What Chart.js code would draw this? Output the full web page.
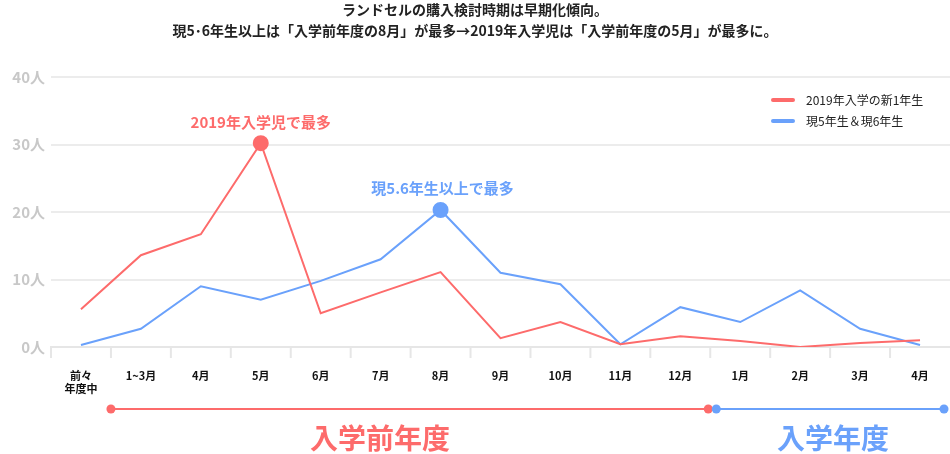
<!DOCTYPE html>
<html><head><meta charset="utf-8">
<script src="https://cdn.jsdelivr.net/npm/chart.js@4"></script>
<style>body{margin:0;background:#fff}#wrap{width:950px;height:454px}</style>
</head><body><div id="wrap"><canvas id="c"></canvas></div>
<script>
const categories = [['前々', '年度中'], '1~3月', '4月', '5月', '6月', '7月', '8月', '9月', '10月', '11月', '12月', '1月', '2月', '3月', '4月'];
const newFirstGrade = [5.6, 13.6, 16.7, 30.2, 5.0, 8.1, 11.1, 1.3, 3.7, 0.4, 1.6, 0.9, 0.0, 0.6, 1.0];
const grade5and6 = [0.3, 2.7, 9.0, 7.0, 9.8, 13.0, 20.3, 11.0, 9.3, 0.4, 5.9, 3.7, 8.4, 2.7, 0.3];
const seriesNames = ['2019年入学の新1年生', '現5年生＆現6年生'];
const yTicks = [0, 10, 20, 30, 40];

const RED = '#fd6b6b', BLUE = '#6aa1fb';
const FONT = '"Noto Sans CJK JP", sans-serif';

const overlay = {
    id: 'overlay',
    afterDraw(chart) {
        const ctx = chart.ctx, x = chart.scales.x, y = chart.scales.y;
        ctx.save();
        // title
        ctx.fillStyle = '#222';
        ctx.font = 'bold 14px ' + FONT;
        ctx.textAlign = 'center';
        ctx.textBaseline = 'middle';
        ctx.fillText('ランドセルの購入検討時期は早期化傾向。', 475, 10);
        ctx.fillText('現5･6年生以上は「入学前年度の8月」が最多→2019年入学児は「入学前年度の5月」が最多に。', 475, 31);

        // peak labels
        ctx.font = 'bold 15px ' + FONT;
        const pr = newFirstGrade.indexOf(Math.max(...newFirstGrade));
        const pb = grade5and6.indexOf(Math.max(...grade5and6));
        ctx.fillStyle = RED;
        ctx.fillText('2019年入学児で最多', x.getPixelForValue(pr), 122);
        ctx.fillStyle = BLUE;
        ctx.fillText('現5.6年生以上で最多', x.getPixelForValue(pb) + 2, 188);

        // legend
        ctx.textAlign = 'left';
        ctx.font = '12px ' + FONT;
        [[RED, 100], [BLUE, 121]].forEach(([col, yy], i) => {
            ctx.strokeStyle = col; ctx.lineWidth = 4; ctx.lineCap = 'round';
            ctx.beginPath(); ctx.moveTo(773, yy); ctx.lineTo(793, yy); ctx.stroke();
            ctx.fillStyle = '#222';
            ctx.fillText(seriesNames[i], 806, yy);
        });

        // period bars
        const half = (x.getPixelForValue(1) - x.getPixelForValue(0)) / 2;
        const r0 = x.getPixelForValue(1) - half, r1 = x.getPixelForValue(10) + half - 2;
        const b0 = x.getPixelForValue(11) - half + 6, b1 = chart.chartArea.right - 6;
        const ty = 409;
        [[RED, r0, r1], [BLUE, b0, b1]].forEach(([col, a, b]) => {
            ctx.strokeStyle = col; ctx.fillStyle = col; ctx.lineWidth = 2;
            ctx.beginPath(); ctx.moveTo(a, ty); ctx.lineTo(b, ty); ctx.stroke();
            [a, b].forEach(p => { ctx.beginPath(); ctx.arc(p, ty, 4.5, 0, Math.PI * 2); ctx.fill(); });
        });
        ctx.textAlign = 'center';
        ctx.font = 'bold 28px ' + FONT;
        ctx.fillStyle = RED;
        ctx.fillText('入学前年度', 380, 438);
        ctx.fillStyle = BLUE;
        ctx.fillText('入学年度', 833, 438);
        ctx.restore();
    }
};

function peakRadius(arr) {
    const m = Math.max(...arr);
    return arr.map(v => v === m ? 7 : 0);
}

new Chart(document.getElementById('c'), {
    type: 'line',
    data: {
        labels: categories,
        datasets: [{
            label: seriesNames[0],
            data: newFirstGrade,
            borderColor: RED,
            backgroundColor: RED,
            borderWidth: 2,
            pointRadius: peakRadius(newFirstGrade),
            tension: 0
        }, {
            label: seriesNames[1],
            data: grade5and6,
            borderColor: BLUE,
            backgroundColor: BLUE,
            borderWidth: 2,
            pointRadius: peakRadius(grade5and6),
            tension: 0
        }]
    },
    options: {
        responsive: true,
        maintainAspectRatio: false,
        animation: false,
        layout: { padding: { top: 77, right: 0, left: 0, bottom: 0 } },
        plugins: { legend: { display: false }, tooltip: { enabled: false } },
        scales: {
            x: {
                offset: true,
                afterFit: s => { s.height = 107; },
                grid: { display: false, drawOnChartArea: false },
                border: { color: '#e6e6e6', width: 2 },
                ticks: { color: '#111', font: { family: FONT, size: 11, weight: 'bold' }, maxRotation: 0, padding: 14, autoSkip: false }
            },
            y: {
                min: 0, max: 40,
                afterFit: s => { s.width = 51; },
                afterBuildTicks: s => { s.ticks = yTicks.map(v => ({ value: v })); },
                grid: { color: '#ececec', lineWidth: 2, drawTicks: false },
                border: { display: false },
                ticks: { color: '#c8c8c8', font: { family: FONT, size: 15, weight: 'bold' }, padding: 6, callback: v => v + '人' }
            }
        }
    },
    plugins: [overlay, {
        id: 'xticks',
        afterDraw(chart) {
            const ctx = chart.ctx, x = chart.scales.x, a = chart.chartArea;
            const half = (x.getPixelForValue(1) - x.getPixelForValue(0)) / 2;
            ctx.save();
            ctx.strokeStyle = '#e6e6e6'; ctx.lineWidth = 2;
            for (let i = 0; i < categories.length; i++) {
                const p = x.getPixelForValue(i) - half;
                ctx.beginPath(); ctx.moveTo(p, a.bottom); ctx.lineTo(p, a.bottom + 11); ctx.stroke();
            }
            ctx.restore();
        }
    }]
});
</script></body></html>
